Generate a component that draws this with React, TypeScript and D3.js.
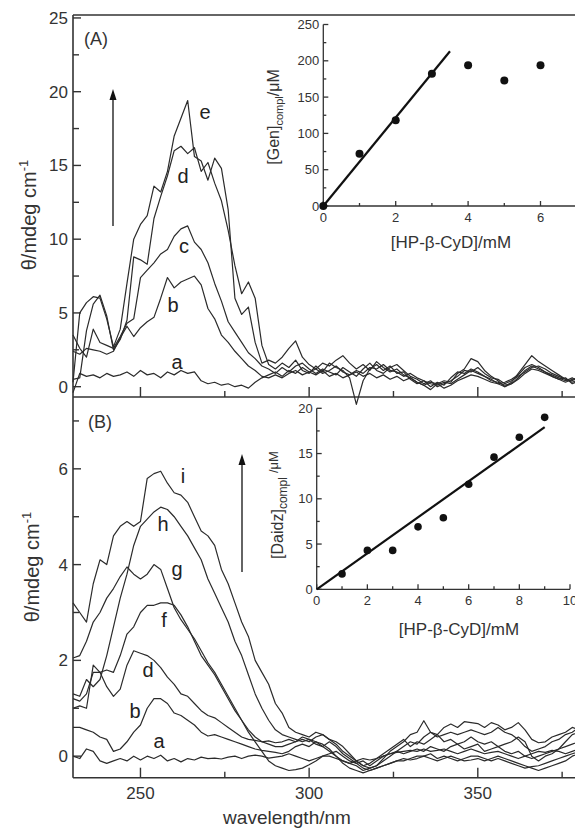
import React from "react";
import * as d3 from "d3";

// ---------- DATA ----------
const wavelengths: number[] = d3.range(230, 381, 2);

// Panel A (Gen) CD spectra, mdeg
const specA_a = [-0.4,0.9,0.7,0.8,0.6,0.9,0.7,0.8,1.0,0.7,1.1,0.8,0.9,0.6,1.0,0.8,1.1,0.9,1.0,0.4,0.2,0.3,0.1,0.2,0.0,0.1,-0.1,0.3,0.6,0.8,1.0,0.7,1.1,0.9,1.3,1.0,0.8,1.1,0.7,0.9,0.6,0.8,1.0,0.7,0.9,0.6,0.8,0.5,0.7,0.4,0.6,0.3,0.1,0.3,0.2,-0.1,0.1,0.4,0.6,0.8,0.7,0.5,0.3,0.2,0.0,0.2,0.5,0.9,1.2,1.1,0.9,0.7,0.5,0.6,0.2,0.4];
const specA_b = [2.4,2.2,2.6,2.5,2.4,2.2,2.4,3.3,4.1,3.4,4.0,4.4,4.7,6.0,7.4,6.7,7.1,7.3,7.5,6.9,5.3,4.6,3.5,3.0,2.4,1.9,1.4,1.1,0.7,0.6,0.8,0.6,0.9,1.1,0.8,1.0,1.2,0.9,1.1,1.4,1.0,0.8,1.1,0.9,1.3,1.2,1.5,1.1,1.0,0.7,0.9,0.6,0.4,0.2,0.1,0.3,0.2,0.5,0.8,1.1,0.9,0.7,0.4,0.3,0.1,0.2,0.6,1.1,1.4,1.2,1.0,0.7,0.5,0.3,0.5,0.6];
const specA_c = [3.5,2.6,2.0,3.9,3.0,2.8,2.6,3.4,4.3,4.6,7.4,7.9,8.4,9.0,9.3,10.2,10.7,10.9,9.8,9.3,8.4,7.0,5.8,4.4,3.7,3.0,2.3,1.9,1.4,1.2,0.9,1.3,1.0,1.4,1.6,1.2,0.9,1.2,1.0,0.8,1.3,1.0,0.7,1.2,1.6,1.1,0.9,1.3,1.5,1.1,0.7,0.5,0.2,0.4,0.0,0.2,0.4,0.7,1.1,1.0,1.3,0.9,0.6,0.5,0.2,0.4,0.7,1.0,1.3,1.4,1.2,0.9,0.7,0.5,0.4,0.7];
const specA_d = [0.5,0.6,3.8,5.6,6.2,4.8,2.5,3.2,4.5,8.8,8.6,8.3,11.4,12.9,14.3,16.0,16.3,15.8,16.2,14.6,15.2,13.8,12.6,10.6,8.2,6.3,7.1,6.0,2.8,1.5,1.2,1.6,1.3,1.8,1.1,0.9,1.4,1.0,1.6,1.3,1.1,0.6,-1.2,0.4,1.2,1.5,1.1,1.4,0.9,1.0,0.5,0.2,0.4,0.0,0.3,0.1,0.6,1.0,0.9,1.2,1.0,0.7,0.5,0.2,0.3,0.5,0.8,1.3,1.5,1.3,1.0,0.8,0.6,0.4,0.6,0.3];
const specA_e = [0.3,5.0,5.7,6.1,6.0,4.6,2.7,3.9,7.0,10.0,11.0,11.6,13.6,13.2,14.6,17.0,18.2,19.4,15.6,15.3,14.0,15.5,14.8,12.0,6.0,4.9,5.4,3.0,1.6,1.8,1.6,2.0,2.6,3.1,2.0,1.5,1.2,1.6,1.4,1.8,2.1,1.6,1.2,1.5,1.1,1.7,1.3,1.0,1.2,0.8,0.6,0.3,0.1,-0.2,0.2,0.4,0.3,0.9,1.2,1.9,1.7,1.1,0.7,0.4,0.0,0.3,0.9,1.5,2.1,1.7,1.4,1.1,0.8,0.5,0.3,0.5];
const labelsA = ["a", "b", "c", "d", "e"];

// Panel B (Daidz) CD spectra, mdeg
const specB_a = [0.0,-0.05,0.15,0.1,-0.1,-0.15,-0.1,-0.05,-0.1,0.0,-0.08,0.0,-0.05,0.02,-0.1,-0.05,-0.12,-0.05,-0.08,-0.02,-0.05,-0.04,-0.06,-0.02,0.0,-0.05,0.0,0.02,0.0,-0.04,-0.02,0.0,0.05,0.0,-0.05,-0.1,-0.05,0.0,0.0,-0.05,-0.1,-0.15,-0.1,-0.05,-0.08,-0.05,0.0,0.05,0.08,0.1,0.12,0.1,0.15,0.1,0.12,0.15,0.1,0.05,0.1,0.15,0.1,0.05,0.08,0.1,0.05,0.0,-0.05,0.0,0.05,0.1,0.08,0.12,0.1,0.05,0.1,0.15];
const specB_b = [0.6,0.6,0.55,0.5,0.4,0.35,0.1,0.15,0.3,0.5,0.65,1.0,1.2,1.2,1.1,0.9,0.85,0.75,0.65,0.5,0.42,0.45,0.4,0.35,0.3,0.25,0.2,0.15,0.12,0.1,0.08,0.05,0.1,0.2,0.25,0.2,0.3,0.25,0.15,0.0,-0.15,-0.25,-0.3,-0.35,-0.3,-0.25,-0.2,-0.15,-0.1,-0.05,-0.08,-0.05,0.0,-0.05,-0.1,-0.05,0.0,-0.05,-0.1,-0.08,-0.05,-0.1,-0.05,0.0,-0.05,-0.1,-0.15,-0.2,-0.25,-0.3,-0.25,-0.2,-0.15,-0.1,0.0,0.05];
const specB_d = [1.0,1.05,1.0,1.9,1.75,1.45,1.25,1.4,1.9,2.2,2.15,2.1,2.0,1.85,1.65,1.5,1.3,1.25,1.1,0.95,0.85,0.8,0.7,0.6,0.5,0.4,0.35,0.33,0.3,0.32,0.28,0.3,0.35,0.3,0.4,0.35,0.25,0.2,0.3,0.2,0.05,-0.05,-0.15,-0.1,-0.2,-0.1,0.0,0.05,0.1,0.05,0.1,0.15,0.1,0.2,0.15,0.1,0.2,0.25,0.15,0.2,0.25,0.1,0.15,0.2,0.1,0.05,0.1,0.0,-0.05,0.0,0.05,0.1,0.15,0.2,0.25,0.3];
const specB_f = [1.2,1.15,1.3,1.75,1.75,1.8,1.75,2.1,2.55,2.7,3.0,3.15,3.15,3.2,3.2,3.15,2.95,2.7,2.4,2.1,1.9,1.7,1.45,1.2,0.95,0.75,0.55,0.4,0.3,0.25,0.2,0.2,0.25,0.3,0.35,0.3,0.4,0.45,0.35,0.25,0.1,0.0,-0.1,-0.2,-0.15,-0.05,0.05,0.15,0.25,0.35,0.2,0.3,0.25,0.35,0.45,0.3,0.35,0.25,0.3,0.4,0.3,0.25,0.3,0.2,0.25,0.3,0.4,0.3,0.0,-0.1,0.0,0.05,0.15,0.3,0.45,0.5];
const specB_g = [2.05,2.1,2.4,2.8,3.0,3.3,3.5,3.75,3.95,3.8,3.7,3.8,4.0,3.9,3.5,3.1,2.85,2.65,2.45,2.2,1.95,1.75,1.5,1.25,1.0,0.75,0.5,0.3,0.1,-0.1,-0.2,-0.25,-0.3,-0.28,-0.25,-0.18,-0.1,0.0,0.05,0.1,0.0,-0.1,-0.15,-0.25,-0.3,-0.25,-0.2,-0.15,-0.1,-0.1,-0.05,0.0,0.0,0.05,-0.05,0.0,-0.05,-0.1,-0.05,0.0,0.0,-0.05,-0.1,-0.05,-0.1,-0.15,-0.2,-0.25,-0.22,-0.2,-0.15,-0.1,-0.05,0.0,0.05,0.1];
const specB_h = [1.3,1.25,1.6,1.45,1.6,2.1,2.7,3.3,3.8,4.4,4.8,4.95,5.1,5.2,5.15,5.0,4.8,4.6,4.35,4.1,3.7,3.4,3.1,2.8,2.4,2.1,1.7,1.3,1.0,0.75,0.55,0.45,0.4,0.35,0.3,0.35,0.3,0.2,0.1,0.0,-0.1,-0.15,-0.2,-0.3,-0.25,-0.2,-0.1,0.0,0.1,0.2,0.3,0.25,0.4,0.5,0.4,0.45,0.5,0.45,0.5,0.55,0.5,0.45,0.5,0.6,0.5,0.45,0.35,0.2,0.1,0.15,0.2,0.3,0.35,0.45,0.5,0.6];
const specB_i = [3.2,3.0,2.8,3.6,4.1,4.0,4.6,4.8,4.9,4.8,4.9,5.8,5.9,5.95,5.7,5.5,5.45,5.3,5.0,4.7,4.6,4.4,3.9,3.6,3.2,2.8,2.5,2.0,1.75,1.5,1.1,0.9,0.6,0.5,0.45,0.4,0.5,0.45,0.35,0.3,0.2,0.05,-0.1,-0.2,-0.25,-0.2,-0.05,0.1,0.2,0.3,0.45,0.5,0.74,0.5,0.45,0.6,0.67,0.6,0.72,0.7,0.68,0.6,0.7,0.65,0.55,0.6,0.7,0.55,0.35,0.28,0.3,0.4,0.45,0.5,0.6,0.55];
const labelsB = ["a", "b", "d", "f", "g", "h", "i"];

// Inset A: [Gen]compl vs [HP-b-CyD]
const insetA_x = [0, 1, 2, 3, 4, 5, 6];
const insetA_y = [0, 72, 118, 182, 194, 173, 194];
const insetA_fit = { slope: 60.9, xEnd: 3.5 };

// Inset B: [Daidz]compl vs [HP-b-CyD]
const insetB_x = [1, 2, 3, 4, 5, 6, 7, 8, 9];
const insetB_y = [1.7, 4.3, 4.3, 6.9, 7.9, 11.6, 14.6, 16.8, 19.0];
const insetB_fit = { slope: 1.99, xEnd: 9 };

const xMajor = [250, 300, 350];
const xMinor = [275, 325, 375];
const yAMajor = [0, 5, 10, 15, 20, 25];
const yAMinor = [2.5, 7.5, 12.5, 17.5, 22.5];
const yBMajor = [0, 2, 4, 6];
const yBMinor = [1, 3, 5, 7];
const iaXMajor = [0, 2, 4, 6];
const iaXMinor = [1, 3, 5, 7];
const iaYMajor = [0, 50, 100, 150, 200, 250];
const iaYMinor = [25, 75, 125, 175, 225];
const ibXMajor = [0, 2, 4, 6, 8, 10];
const ibXMinor = [1, 3, 5, 7, 9];
const ibYMajor = [0, 5, 10, 15, 20];
const ibYMinor = [2.5, 7.5, 12.5, 17.5];

// ---------- LAYOUT ----------
const W = 575, H = 829;
const FONT = "Liberation Sans, Arial, sans-serif";
const TXT = "#333";
const LINE = "#2b2b2b";

const x = d3.scaleLinear().domain([230, 380]).range([73, 579]);
const yA = d3.scaleLinear().domain([-0.7, 25.2]).range([397, 15]);
const yB = d3.scaleLinear().domain([-0.45, 7.5]).range([777.7, 397]);

const xIA = d3.scaleLinear().domain([0, 7]).range([323.3, 576.7]);
const yIA = d3.scaleLinear().domain([0, 250]).range([206, 24.5]);
const xIB = d3.scaleLinear().domain([0, 10]).range([316.7, 570]);
const yIB = d3.scaleLinear().domain([0, 20]).range([589.3, 408.3]);

function Arrow({ x0, y0, y1 }: { x0: number; y0: number; y1: number }) {
  return (
    <g>
      <line x1={x0} x2={x0} y1={y0} y2={y1 + 9} stroke="#111" strokeWidth={1.3} />
      <path d={`M${x0},${y1} L${x0 - 3.5},${y1 + 11} L${x0 + 3.5},${y1 + 11} Z`} fill="#111" />
    </g>
  );
}

export default function App() {
  const lineA = (vals: number[]) =>
    d3.line<number>().x((_, i) => x(wavelengths[i])).y((v) => yA(v))(vals) || "";
  const lineB = (vals: number[]) =>
    d3.line<number>().x((_, i) => x(wavelengths[i])).y((v) => yB(v))(vals) || "";

  const seriesA = [specA_a, specA_b, specA_c, specA_d, specA_e];
  const seriesB = [specB_a, specB_b, specB_d, specB_f, specB_g, specB_h, specB_i];

  const xL = x.range()[0];
  const xR = x.range()[1];

  return (
    <svg width={W} height={H} style={{ position: "absolute", left: 0, top: 0, background: "#fff" }}
      fontFamily={FONT}>
      <rect x={0} y={0} width={W} height={H} fill="#fff" />

      {/* ---------- Panel frames ---------- */}
      <g stroke={TXT} strokeWidth={1.6} fill="none">
        <line x1={xL} x2={xR} y1={yA.range()[1]} y2={yA.range()[1]} />
        <line x1={xL} x2={xL} y1={yA.range()[1]} y2={yB.range()[0]} />
        <line x1={xL} x2={xR} y1={yA.range()[0]} y2={yA.range()[0]} />
        <line x1={xL} x2={xR} y1={yB.range()[0]} y2={yB.range()[0]} />
      </g>
      {/* ticks */}
      <g stroke={TXT} strokeWidth={1.4}>
        {yAMajor.map((t) => <line key={"ayM" + t} x1={xL} x2={xL + 8} y1={yA(t)} y2={yA(t)} />)}
        {yAMinor.map((t) => <line key={"aym" + t} x1={xL} x2={xL + 6} y1={yA(t)} y2={yA(t)} />)}
        {xMajor.map((t) => <line key={"axM" + t} x1={x(t)} x2={x(t)} y1={yA.range()[0]} y2={yA.range()[0] - 10} />)}
        {xMinor.map((t) => <line key={"axm" + t} x1={x(t)} x2={x(t)} y1={yA.range()[0]} y2={yA.range()[0] - 6} />)}
        {yBMajor.map((t) => <line key={"byM" + t} x1={xL} x2={xL + 8} y1={yB(t)} y2={yB(t)} />)}
        {yBMinor.map((t) => <line key={"bym" + t} x1={xL} x2={xL + 6} y1={yB(t)} y2={yB(t)} />)}
        {xMajor.map((t) => <line key={"bxM" + t} x1={x(t)} x2={x(t)} y1={yB.range()[0]} y2={yB.range()[0] - 10} />)}
        {xMinor.map((t) => <line key={"bxm" + t} x1={x(t)} x2={x(t)} y1={yB.range()[0]} y2={yB.range()[0] - 6} />)}
      </g>
      <g fill={TXT} fontSize={17} textAnchor="end">
        {yAMajor.map((t) => <text key={"ayl" + t} x={68} y={yA(t) + 6}>{t}</text>)}
        {yBMajor.map((t) => <text key={"byl" + t} x={68} y={yB(t) + 6}>{t}</text>)}
      </g>
      <g fill={TXT} fontSize={17} textAnchor="middle">
        {xMajor.map((t) => <text key={"bxl" + t} x={x(t)} y={799}>{t}</text>)}
      </g>
      <text x={287} y={824} fontSize={19} fill={TXT} textAnchor="middle">wavelength/nm</text>
      <text transform={`translate(36,215) rotate(-90)`} fontSize={20} fill={TXT} textAnchor="middle">
        θ/mdeg cm<tspan fontSize={13} dy={-8}>-1</tspan>
      </text>
      <text transform={`translate(39,567) rotate(-90)`} fontSize={20} fill={TXT} textAnchor="middle">
        θ/mdeg cm<tspan fontSize={13} dy={-8}>-1</tspan>
      </text>

      <text x={84} y={45} fontSize={18} fill={TXT}>(A)</text>
      <text x={88} y={428} fontSize={18} fill={TXT}>(B)</text>

      {/* spectra */}
      <g fill="none" stroke={LINE} strokeWidth={1.2} strokeLinejoin="round">
        {seriesA.map((s, i) => <path key={"sa" + i} d={lineA(s)} />)}
        {seriesB.map((s, i) => <path key={"sb" + i} d={lineB(s)} />)}
      </g>

      {/* curve labels */}
      <g fill="#222" fontSize={20} textAnchor="middle">
        <text x={177} y={369}>{labelsA[0]}</text>
        <text x={173} y={312}>{labelsA[1]}</text>
        <text x={184} y={253}>{labelsA[2]}</text>
        <text x={183} y={183}>{labelsA[3]}</text>
        <text x={205} y={119}>{labelsA[4]}</text>
        <text x={159} y={748}>{labelsB[0]}</text>
        <text x={135} y={718}>{labelsB[1]}</text>
        <text x={148} y={677}>{labelsB[2]}</text>
        <text x={164} y={627}>{labelsB[3]}</text>
        <text x={177} y={576}>{labelsB[4]}</text>
        <text x={163} y={531}>{labelsB[5]}</text>
        <text x={183} y={483}>{labelsB[6]}</text>
      </g>

      <Arrow x0={113} y0={226} y1={89} />
      <Arrow x0={242} y0={572} y1={454} />

      {/* ---------- Inset A ---------- */}
      <g stroke={TXT} strokeWidth={1.3}>
        <line x1={xIA(0)} x2={xIA(0)} y1={yIA(0)} y2={yIA(250)} />
        <line x1={xIA(0)} x2={xIA(7)} y1={yIA(0)} y2={yIA(0)} />
        {iaYMajor.map((t) => <line key={"iay" + t} x1={xIA(0)} x2={xIA(0) + 5} y1={yIA(t)} y2={yIA(t)} />)}
        {iaYMinor.map((t) => <line key={"iaym" + t} x1={xIA(0)} x2={xIA(0) + 3} y1={yIA(t)} y2={yIA(t)} />)}
        {iaXMajor.map((t) => <line key={"iax" + t} x1={xIA(t)} x2={xIA(t)} y1={yIA(0)} y2={yIA(0) - 5} />)}
        {iaXMinor.map((t) => <line key={"iaxm" + t} x1={xIA(t)} x2={xIA(t)} y1={yIA(0)} y2={yIA(0) - 3} />)}
      </g>
      <g fill={TXT} fontSize={13}>
        {iaYMajor.map((t) => <text key={"iayl" + t} x={xIA(0) - 4} y={yIA(t) + 4.5} textAnchor="end">{t}</text>)}
        {iaXMajor.map((t) => <text key={"iaxl" + t} x={xIA(t)} y={yIA(0) + 16} textAnchor="middle">{t}</text>)}
      </g>
      <text x={451} y={248} fontSize={17} fill={TXT} textAnchor="middle">[HP-β-CyD]/mM</text>
      <text transform={`translate(279,117) rotate(-90)`} fontSize={16} fill={TXT} textAnchor="middle">
        [Gen]<tspan fontSize={11} dy={4}>compl</tspan><tspan dy={-4}>/μM</tspan>
      </text>
      <line x1={xIA(0)} y1={yIA(0)} x2={xIA(insetA_fit.xEnd)} y2={yIA(insetA_fit.slope * insetA_fit.xEnd)}
        stroke="#111" strokeWidth={2.2} />
      <g fill="#111">
        {insetA_x.map((v, i) => <circle key={"ia" + i} cx={xIA(v)} cy={yIA(insetA_y[i])} r={4} />)}
      </g>

      {/* ---------- Inset B ---------- */}
      <g stroke={TXT} strokeWidth={1.3}>
        <line x1={xIB(0)} x2={xIB(0)} y1={yIB(0)} y2={yIB(20)} />
        <line x1={xIB(0)} x2={xIB(10)} y1={yIB(0)} y2={yIB(0)} />
        {ibYMajor.map((t) => <line key={"iby" + t} x1={xIB(0)} x2={xIB(0) + 5} y1={yIB(t)} y2={yIB(t)} />)}
        {ibYMinor.map((t) => <line key={"ibym" + t} x1={xIB(0)} x2={xIB(0) + 3} y1={yIB(t)} y2={yIB(t)} />)}
        {ibXMajor.map((t) => <line key={"ibx" + t} x1={xIB(t)} x2={xIB(t)} y1={yIB(0)} y2={yIB(0) - 5} />)}
        {ibXMinor.map((t) => <line key={"ibxm" + t} x1={xIB(t)} x2={xIB(t)} y1={yIB(0)} y2={yIB(0) - 3} />)}
      </g>
      <g fill={TXT} fontSize={13}>
        {ibYMajor.map((t) => <text key={"ibyl" + t} x={xIB(0) - 4} y={yIB(t) + 4.5} textAnchor="end">{t}</text>)}
        {ibXMajor.map((t) => <text key={"ibxl" + t} x={xIB(t)} y={yIB(0) + 16} textAnchor="middle">{t}</text>)}
      </g>
      <text x={459} y={635} fontSize={17} fill={TXT} textAnchor="middle">[HP-β-CyD]/mM</text>
      <text transform={`translate(283,505) rotate(-90)`} fontSize={16} fill={TXT} textAnchor="middle">
        [Daidz]<tspan fontSize={12} dy={4}>compl</tspan><tspan fontSize={13} dx={4} dy={-9}>/μM</tspan>
      </text>
      <line x1={xIB(0)} y1={yIB(0)} x2={xIB(insetB_fit.xEnd)} y2={yIB(insetB_fit.slope * insetB_fit.xEnd)}
        stroke="#111" strokeWidth={2.2} />
      <g fill="#111">
        {insetB_x.map((v, i) => <circle key={"ib" + i} cx={xIB(v)} cy={yIB(insetB_y[i])} r={3.8} />)}
      </g>
    </svg>
  );
}
